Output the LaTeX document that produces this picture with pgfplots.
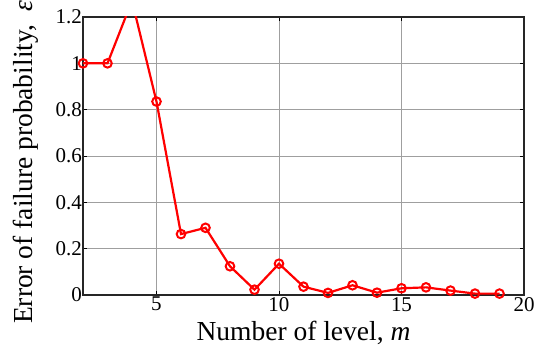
\documentclass[border=0pt]{standalone}
\usepackage{pgfplots}
\pgfplotsset{compat=1.18}
\usepackage{fontspec}
\setmainfont{Liberation Serif}
\newfontfamily\tnr{Liberation Serif}
\begin{document}
\begin{tikzpicture}
\useasboundingbox (-83pt,-55pt) rectangle (456pt,295pt);
\begin{axis}[
  at={(0,0)}, anchor=south west,
  scale only axis, width=441pt, height=278pt,
  xmin=2, xmax=20, ymin=0, ymax=1.2,
  xtick={5,10,15,20}, ytick={0,0.2,0.4,0.6,0.8,1,1.2},
  xticklabels={{\tnr 5},{\tnr 10},{\tnr 15},{\tnr 20}},
  yticklabels={{\tnr 0},{\tnr 0.2},{\tnr 0.4},{\tnr 0.6},{\tnr 0.8},{\tnr 1},{\tnr 1.2}},
  tick align=inside, tick pos=both,
  major tick length=4pt,
  tick style={black, line width=0.8pt},
  grid=major,
  major grid style={gray!75, line width=0.8pt},
  axis line style={black!85, line width=1.8pt},
  ticklabel style={font=\tnr\fontsize{21}{24}\selectfont},
  yticklabel style={inner sep=1pt},
  xticklabel style={inner sep=2pt},
  xlabel={Number of level, \textit{m}},
  ylabel={Error of failure probability,\ \ \textit{ε}},
  label style={font=\fontsize{27.5}{32}\selectfont},
  xlabel style={at={(axis description cs:0.5,-0.162)}, anchor=base},
  ylabel style={at={(axis description cs:-0.1134,0.478)}, anchor=base},
]
\addplot[red, line width=2.2pt, mark=o, mark size=4.3pt, mark options={line width=2pt}]
coordinates {
(2,1.0) (3,1.0) (4,1.27) (5,0.835) (6,0.263) (7,0.29) (8,0.124) (9,0.023)
(10,0.135) (11,0.036) (12,0.009) (13,0.042) (14,0.01) (15,0.029) (16,0.033)
(17,0.019) (18,0.006) (19,0.006)
};
\end{axis}
\end{tikzpicture}
\end{document}
